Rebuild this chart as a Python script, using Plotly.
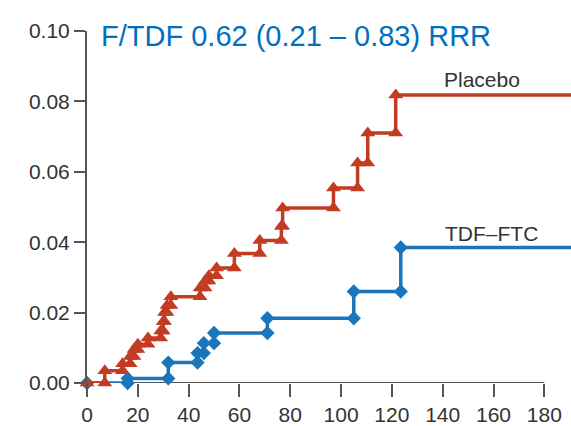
import plotly.graph_objects as go

# ---- data ----
placebo_times = [7, 14, 17, 18.5, 20, 24, 29, 30, 30.5, 31.5, 33, 44.5, 46.5, 48, 51, 58, 68, 76.5, 77, 97, 106.5, 110.5, 121.5]
placebo_cum = [0.0035, 0.0055, 0.0075, 0.0095, 0.011, 0.0128, 0.0148, 0.0175, 0.020, 0.022, 0.0245, 0.027, 0.029, 0.0305, 0.0327, 0.0368, 0.0405, 0.0445, 0.0497, 0.0554, 0.0625, 0.071, 0.0818]

tdf_times = [16, 32, 43.5, 46, 50, 71, 105, 123.5]
tdf_cum = [0.0013, 0.0058, 0.0085, 0.0113, 0.0142, 0.0184, 0.026, 0.0385]

end_time = 195
x_ticks = [0, 20, 40, 60, 80, 100, 120, 140, 160, 180]
y_ticks = [0.00, 0.02, 0.04, 0.06, 0.08, 0.10]
title_text = "F/TDF 0.62 (0.21 \u2013 0.83) RRR"
labels = ["Placebo", "TDF\u2013FTC"]

RED = "#C23B22"
BLUE = "#1B75BB"
GRAY = "#333333"


def step_path(times, cum):
    lx, ly = [0], [0]
    mx, my = [0], [0]
    prev = 0
    for t, v in zip(times, cum):
        lx += [t, t]
        ly += [prev, v]
        mx += [t, t]
        my += [prev, v]
        prev = v
    lx.append(end_time)
    ly.append(prev)
    return lx, ly, mx, my


fig = go.Figure()
for times, cum, color, sym, msize in [
    (tdf_times, tdf_cum, BLUE, "diamond", 11),
    (placebo_times, placebo_cum, RED, "triangle-up", 13),
]:
    lx, ly, mx, my = step_path(times, cum)
    fig.add_trace(go.Scatter(x=lx, y=ly, mode="lines", line=dict(color=color, width=3.5),
                             cliponaxis=False, hoverinfo="skip", showlegend=False))
    fig.add_trace(go.Scatter(x=mx, y=my, mode="markers",
                             marker=dict(symbol=sym, size=msize, color=color, line=dict(width=0)),
                             cliponaxis=False, showlegend=False))

font_family = "Liberation Sans, Arial, sans-serif"

fig.update_layout(
    width=571, height=426,
    margin=dict(l=87, r=0, t=31, b=43),
    paper_bgcolor="white", plot_bgcolor="white",
    font=dict(family=font_family, size=21, color=GRAY),
    xaxis=dict(range=[0, 190.5], tickvals=x_ticks, ticks="outside", ticklen=13, tickwidth=2,
               tickcolor="#555", showgrid=False, zeroline=False, showline=False,
               tickfont=dict(size=21, color=GRAY)),
    yaxis=dict(range=[0, 0.1], tickvals=y_ticks, ticktext=[f"{v:.2f}" for v in y_ticks],
               ticks="outside", ticklen=11, tickwidth=2, tickcolor="#555",
               showgrid=False, zeroline=False, showline=True, linecolor="#555", linewidth=2,
               tickfont=dict(size=21, color=GRAY)),
    shapes=[dict(type="line", xref="x", yref="y", x0=0, x1=180, y0=0, y1=0,
                 line=dict(color="#555", width=2), layer="below")],
    annotations=[
        dict(text=title_text, xref="paper", yref="paper", x=(99 - 87) / 484, y=(383 - 36) / 352,
             xanchor="left", yanchor="middle", showarrow=False,
             font=dict(family=font_family, size=29, color="#0070C0")),
        dict(text=labels[0], xref="paper", yref="paper", x=(442 - 87) / 484, y=(383 - 80) / 352,
             xanchor="left", yanchor="middle", showarrow=False,
             font=dict(family=font_family, size=21, color=GRAY)),
        dict(text=labels[1], xref="paper", yref="paper", x=(443 - 87) / 484, y=(383 - 233) / 352,
             xanchor="left", yanchor="middle", showarrow=False,
             font=dict(family=font_family, size=21, color=GRAY)),
    ],
)

fig.write_html("out.html")
